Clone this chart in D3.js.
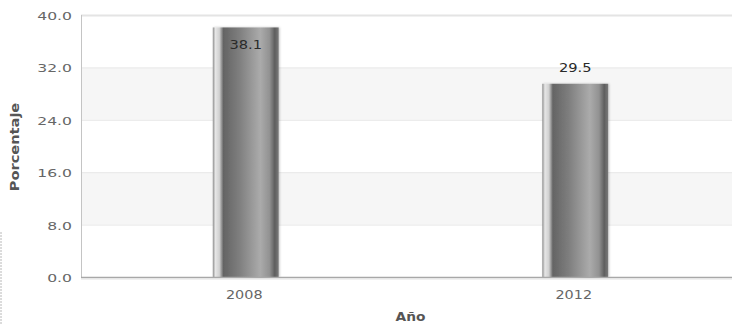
<!DOCTYPE html>
<html>
<head>
<meta charset="utf-8">
<script src="https://cdn.jsdelivr.net/npm/d3@7"></script>
<style>
  html, body { margin: 0; padding: 0; background: #fff; }
  svg { display: block; }
</style>
</head>
<body>
<svg id="chart" width="732" height="324"></svg>
<script>
// Chart data
const years = ["2008", "2012"];
const values = [38.1, 29.5];
const yTicks = [0, 8, 16, 24, 32, 40];
const yTitle = "Porcentaje";
const xTitle = "Año";

const W = 732, H = 324;
const plot = { left: 81, right: 740, top: 15, bottom: 277 };

const svg = d3.select("#chart");
const font = "'DejaVu Sans', Verdana, sans-serif";

const x = d3.scaleBand().domain(years).range([plot.left, plot.right]).padding(0);
const y = d3.scaleLinear().domain([0, 40]).range([plot.bottom, plot.top]);
const fmt = d3.format(".1f");

// Text placed at (px, py), widened horizontally by sx
function label(g, px, py, txt, opts) {
  const o = Object.assign({ size: 11, sx: 1, anchor: "middle", fill: "#555", weight: "normal", rotate: 0 }, opts);
  return g.append("text")
    .attr("transform", `translate(${px},${py}) rotate(${o.rotate}) scale(${o.sx},1)`)
    .attr("text-anchor", o.anchor)
    .attr("font-family", font).attr("font-size", o.size).attr("font-weight", o.weight)
    .attr("fill", o.fill).text(txt);
}

// Bar shading
const defs = svg.append("defs");
const grad = defs.append("linearGradient").attr("id", "barGrad")
  .attr("x1", "0%").attr("x2", "100%").attr("y1", "0%").attr("y2", "0%");
[
  [0, "#8e8e8e"], [0.04, "#e6e6e6"], [0.10, "#d0d0d0"], [0.16, "#646464"],
  [0.40, "#7e7e7e"], [0.72, "#ababab"], [0.86, "#929292"], [0.94, "#5e5e5e"], [1, "#7a7a7a"]
].forEach(([o, c]) => grad.append("stop").attr("offset", o).attr("stop-color", c));

const shadow = defs.append("filter").attr("id", "shadow")
  .attr("x", "-20%").attr("y", "-5%").attr("width", "140%").attr("height", "110%");
shadow.append("feDropShadow").attr("dx", 1).attr("dy", 0).attr("stdDeviation", 1.2)
  .attr("flood-color", "#000").attr("flood-opacity", 0.22);

// Alternating plot bands
const bands = svg.append("g");
for (let i = 0; i < yTicks.length - 1; i++) {
  bands.append("rect")
    .attr("x", plot.left).attr("width", plot.right - plot.left)
    .attr("y", y(yTicks[i + 1])).attr("height", y(yTicks[i]) - y(yTicks[i + 1]))
    .attr("fill", i % 2 === 1 ? "#f6f6f6" : "#ffffff");
}

// Grid lines
const yAxisGrid = d3.axisLeft(y).tickValues(yTicks.slice(1))
  .tickSize(-(plot.right - plot.left)).tickFormat("");
svg.append("g").attr("transform", `translate(${plot.left},0)`).call(yAxisGrid)
  .call(g => g.select(".domain").remove())
  .call(g => g.selectAll("line").attr("stroke", "#e8e8e8").attr("stroke-width", 1))
  .call(g => g.selectAll(".tick").filter(d => d === 40).select("line")
    .attr("stroke", "#e4e4e4").attr("stroke-width", 2));

// Y tick labels
const yLab = svg.append("g");
yTicks.forEach(t => label(yLab, 72, y(t) + 5, fmt(t), { size: 11, sx: 1.42, anchor: "end", fill: "#666" }));

// Left axis line
svg.append("line").attr("x1", plot.left + 0.5).attr("x2", plot.left + 0.5)
  .attr("y1", plot.top).attr("y2", plot.bottom)
  .attr("stroke", "#c4c4c4").attr("stroke-width", 1);

// Bars
const barW = x.bandwidth() * 0.2;
svg.append("g").selectAll("rect").data(years).join("rect")
  .attr("x", (d) => x(d) + x.bandwidth() / 2 - barW / 2)
  .attr("width", barW)
  .attr("y", (d, i) => y(values[i]))
  .attr("height", (d, i) => plot.bottom - y(values[i]))
  .attr("fill", "url(#barGrad)")
  .attr("filter", "url(#shadow)");

// X axis line
svg.append("line").attr("x1", plot.left).attr("x2", W)
  .attr("y1", plot.bottom + 0.5).attr("y2", plot.bottom + 0.5)
  .attr("stroke", "#a8a8a8").attr("stroke-width", 1.5);
svg.append("line").attr("x1", plot.left).attr("x2", W)
  .attr("y1", plot.bottom + 2).attr("y2", plot.bottom + 2)
  .attr("stroke", "#e2e2e2").attr("stroke-width", 1);

// X tick labels
const xLab = svg.append("g");
years.forEach(d => label(xLab, x(d) + x.bandwidth() / 2 - 1.5, 299, d, { size: 12, sx: 1.2, fill: "#666" }));

// Value labels: above the bar, or inside it when there is no room
const vLab = svg.append("g");
years.forEach((d, i) => {
  const top = y(values[i]);
  const py = top - 16 < plot.top ? top + 22 : top - 12;
  label(vLab, x(d) + x.bandwidth() / 2, py, values[i].toFixed(1), { size: 12, sx: 1.22, fill: "#2a2a2a" });
});

// Axis titles
label(svg, 19, (plot.top + plot.bottom) / 2 + 1, yTitle, { size: 11.5, sx: 1.27, weight: "bold", fill: "#555", rotate: -90 });
label(svg, (plot.left + plot.right) / 2, 321, xTitle, { size: 11.5, sx: 1.2, weight: "bold", fill: "#555" });

// Dotted edge at lower left
svg.append("line").attr("x1", 1).attr("x2", 1).attr("y1", 232).attr("y2", H)
  .attr("stroke", "#b8b8b8").attr("stroke-width", 1).attr("stroke-dasharray", "2,1");
</script>
</body>
</html>
